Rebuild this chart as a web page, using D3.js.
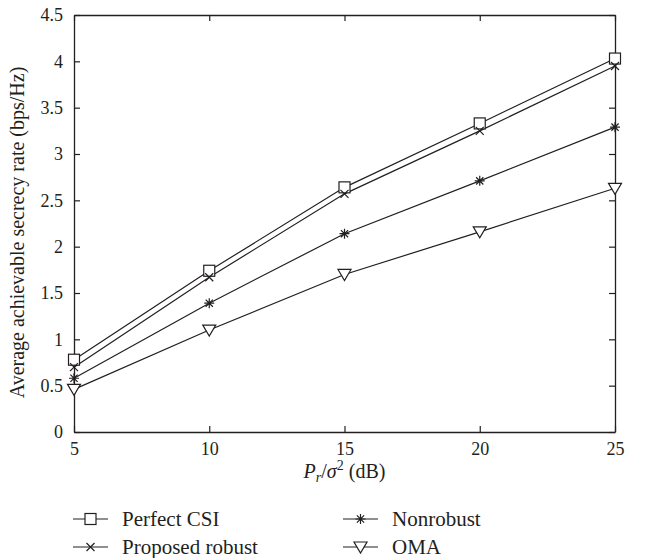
<!DOCTYPE html>
<html><head><meta charset="utf-8">
<script src="https://cdn.jsdelivr.net/npm/d3@7"></script>
<style>body{margin:0;background:#fff;} svg{display:block;}</style>
</head><body>
<script>
const snr = [5, 10, 15, 20, 25];
const perfectCSI = [0.78, 1.74, 2.64, 3.33, 4.03];
const proposedRobust = [0.70, 1.67, 2.57, 3.25, 3.95];
const nonrobust = [0.58, 1.39, 2.14, 2.71, 3.29];
const oma = [0.46, 1.10, 1.70, 2.16, 2.63];
const xTicks = [5, 10, 15, 20, 25];
const yTicks = [0, 0.5, 1, 1.5, 2, 2.5, 3, 3.5, 4, 4.5];
const seriesNames = ["Perfect CSI", "Proposed robust", "Nonrobust", "OMA"];
const seriesMarkers = ["square", "cross", "star", "tri"];

const W = 649, H = 558;
const m = {left: 74, right: 34, top: 15, bottom: 126};
const iw = W - m.left - m.right, ih = H - m.top - m.bottom;
const col = "#231f20";
const font = "'Liberation Serif', 'Times New Roman', serif";

const svg = d3.select("body").append("svg").attr("width", W).attr("height", H);
const g = svg.append("g").attr("transform", `translate(${m.left},${m.top})`);
const x = d3.scaleLinear().domain([5, 25]).range([0, iw]);
const y = d3.scaleLinear().domain([0, 4.5]).range([ih, 0]);

const fmt = d => String(d);
const tl = 6;
const ax = [
  {a: d3.axisBottom(x).tickValues(xTicks).tickFormat(fmt).tickSizeInner(-tl).tickSizeOuter(0).tickPadding(10), t: `translate(0,${ih})`},
  {a: d3.axisTop(x).tickValues(xTicks).tickFormat("").tickSizeInner(-tl).tickSizeOuter(0), t: `translate(0,0)`},
  {a: d3.axisLeft(y).tickValues(yTicks).tickFormat(fmt).tickSizeInner(-tl).tickSizeOuter(0).tickPadding(11), t: `translate(0,0)`},
  {a: d3.axisRight(y).tickValues(yTicks).tickFormat("").tickSizeInner(-tl).tickSizeOuter(0), t: `translate(${iw},0)`}
];
ax.forEach(o => {
  const s = g.append("g").attr("transform", o.t).call(o.a);
  s.select(".domain").attr("stroke", col).attr("stroke-width", 1.3);
  s.selectAll(".tick line").attr("stroke", col).attr("stroke-width", 1.2);
  s.selectAll(".tick text").attr("fill", col).attr("font-family", font).attr("font-size", 18);
});

const data = [perfectCSI, proposedRobust, nonrobust, oma];
const line = d3.line().x((d, i) => x(snr[i])).y(d => y(d));

function marker(sel, type, cx, cy) {
  const gg = sel.append("g").attr("transform", `translate(${cx},${cy})`)
    .attr("fill", "none").attr("stroke", col).attr("stroke-width", 1.2);
  if (type === "square") {
    gg.append("rect").attr("x", -5.5).attr("y", -5.5).attr("width", 11).attr("height", 11).attr("fill", "#fff");
  } else if (type === "cross") {
    gg.append("path").attr("d", "M-4,-4L4,4M-4,4L4,-4");
  } else if (type === "star") {
    gg.append("path").attr("d", "M-5,0L5,0M0,-5L0,5M-3.6,-3.6L3.6,3.6M-3.6,3.6L3.6,-3.6");
  } else if (type === "tri") {
    gg.append("path").attr("d", "M-6.5,-5L6.5,-5L0,6Z").attr("fill", "#fff");
  }
}

data.forEach((vals, k) => {
  g.append("path").datum(vals).attr("d", line).attr("fill", "none").attr("stroke", col).attr("stroke-width", 1.2);
});
data.forEach((vals, k) => {
  vals.forEach((v, i) => marker(g, seriesMarkers[k], x(snr[i]), y(v)));
});

// axis labels
svg.append("text").attr("transform", `translate(24,${m.top + ih/2 + 9}) rotate(-90)`)
  .attr("text-anchor", "middle").attr("font-family", font).attr("font-size", 20).attr("fill", col)
  .text("Average achievable secrecy rate (bps/Hz)");

const xl = svg.append("text").attr("x", m.left + iw/2).attr("y", 478).attr("text-anchor", "middle")
  .attr("font-family", font).attr("font-size", 20).attr("fill", col);
xl.append("tspan").attr("font-style", "italic").text("P");
xl.append("tspan").attr("font-style", "italic").attr("font-size", 14).attr("dy", 4).text("r");
xl.append("tspan").attr("dy", -4).text("/");
xl.append("tspan").attr("font-style", "italic").text("σ");
xl.append("tspan").attr("font-size", 14).attr("dy", -8).text("2");
xl.append("tspan").attr("dy", 8).text(" (dB)");

// legend
const lx = [73, 343], ly = [519, 547];
seriesNames.forEach((n, k) => {
  const cx = lx[k < 2 ? 0 : 1], cy = ly[k % 2];
  const lg = svg.append("g");
  lg.append("line").attr("x1", cx).attr("x2", cx + 35).attr("y1", cy).attr("y2", cy)
    .attr("stroke", col).attr("stroke-width", 1.2);
  marker(lg, seriesMarkers[k], cx + 17.5, cy);
  lg.append("text").attr("x", cx + 49).attr("y", cy + 7).attr("font-family", font).attr("font-size", 21)
    .attr("fill", col).text(n);
});
</script>
</body></html>
